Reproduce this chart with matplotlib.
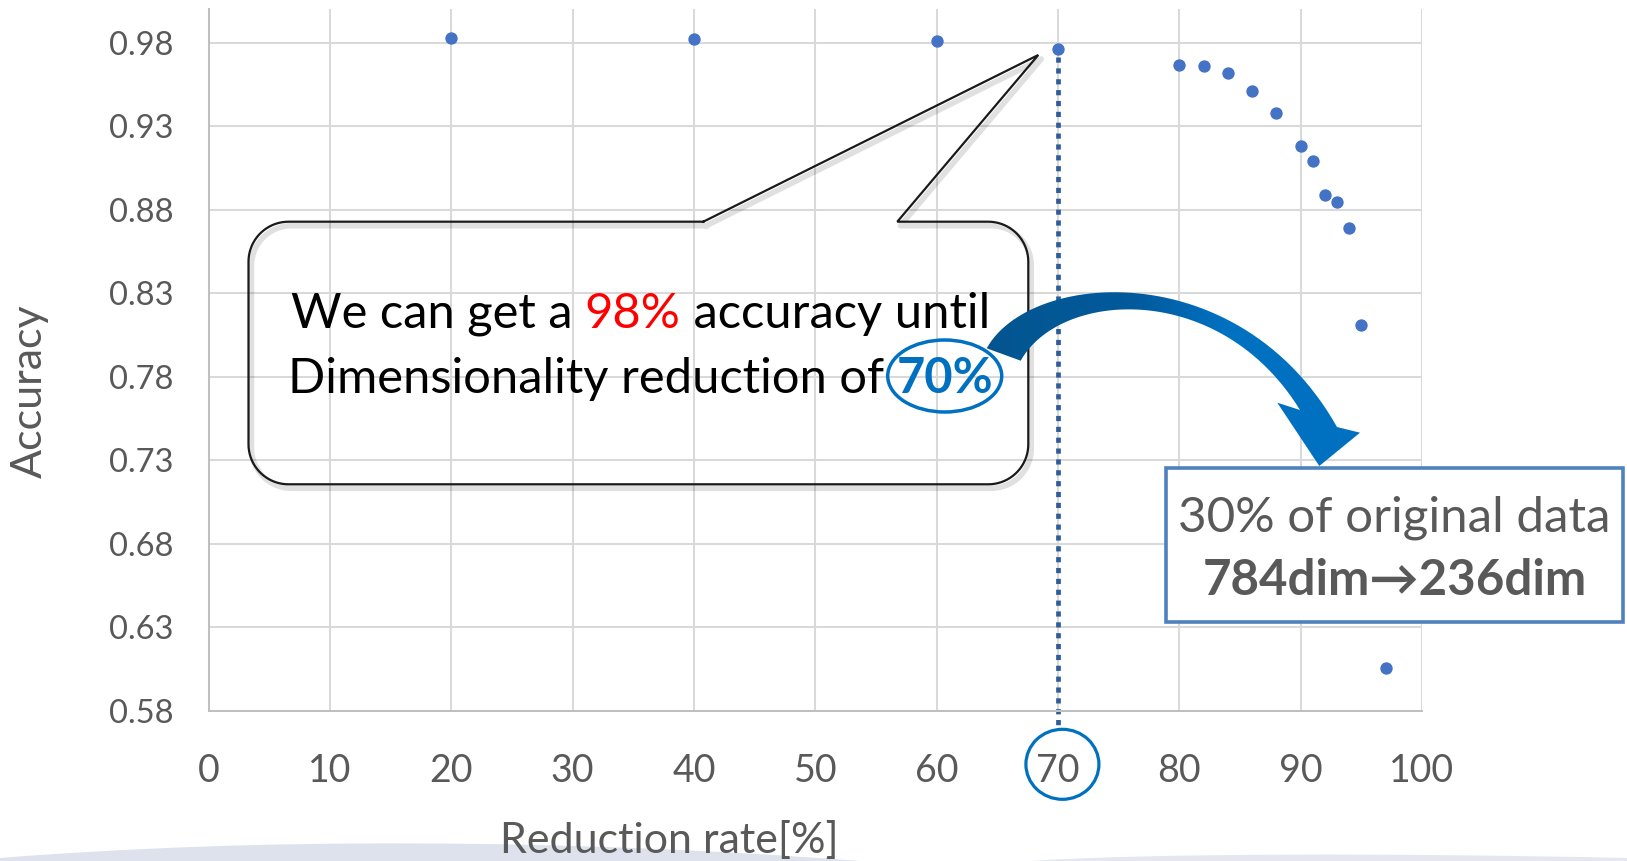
import numpy as np
import matplotlib.pyplot as plt
from matplotlib.patches import Ellipse, Rectangle, Polygon, PathPatch
from matplotlib.path import Path
from matplotlib.colors import LinearSegmentedColormap

# accuracy vs. dimensionality reduction rate
reduction = [20, 40, 60, 70, 80, 82, 84, 86, 88, 90, 91, 92, 93, 94, 95, 97]
accuracy = [0.983, 0.982, 0.981, 0.976, 0.967, 0.966, 0.962, 0.951, 0.938,
            0.918, 0.909, 0.889, 0.885, 0.869, 0.811, 0.606]
x_ticks = [0, 10, 20, 30, 40, 50, 60, 70, 80, 90, 100]
y_ticks = [0.58, 0.63, 0.68, 0.73, 0.78, 0.83, 0.88, 0.93, 0.98]
threshold = 70

W, H = 1627, 861
GRAY = '#595959'
BLUE = '#0070C0'

plt.rcParams['font.family'] = ['Lato', 'DejaVu Sans']

fig = plt.figure(figsize=(W / 100, H / 100), dpi=100)
fig.patch.set_facecolor('white')


def pixel_axes(z):
    a = fig.add_axes([0, 0, 1, 1], zorder=z)
    a.set_xlim(0, W)
    a.set_ylim(H, 0)
    a.axis('off')
    return a


bg = pixel_axes(0)
ax = fig.add_axes([208.6 / W, 1 - 711 / H, 1213.3 / W, 701.6 / H], zorder=1)
ov = pixel_axes(2)

# slide decoration along the bottom edge
left_band = Path([(0, 861), (0, 858), (250, 838), (560, 838), (860, 861), (0, 861)],
                 [Path.MOVETO, Path.LINETO, Path.CURVE4, Path.CURVE4, Path.CURVE4, Path.CLOSEPOLY])
right_band = Path([(1030, 861), (1150, 853), (1400, 853), (1627, 858), (1627, 861), (1030, 861)],
                  [Path.MOVETO, Path.CURVE4, Path.CURVE4, Path.CURVE4, Path.LINETO, Path.CLOSEPOLY])
bg.add_patch(PathPatch(left_band, fc='#dde2ed', ec='none'))
bg.add_patch(PathPatch(right_band, fc='#e4e7f0', ec='none'))

# scatter
ax.plot(reduction, accuracy, 'o', color='#4472C4', ms=7.9, zorder=3)
ax.set_xlim(0, 100)
ax.set_ylim(0.58, 1.0)
ax.set_xticks(x_ticks)
ax.set_yticks(y_ticks)
ax.set_yticklabels([f'{v:.2f}' for v in y_ticks])
ax.grid(True, color='#d9d9d9', lw=1.45)
ax.set_axisbelow(True)
for side in ['top', 'right']:
    ax.spines[side].set_visible(False)
for side in ['left', 'bottom']:
    ax.spines[side].set_color('#bfbfbf')
    ax.spines[side].set_linewidth(1.45)
ax.tick_params(axis='x', length=0, pad=30, labelsize=27, labelcolor=GRAY)
ax.tick_params(axis='y', length=0, pad=25, labelsize=23.5, labelcolor=GRAY)
ax.set_xlabel('Reduction rate[%]', fontsize=31, color=GRAY)
ax.xaxis.set_label_coords(0.3795, -0.157)
ax.set_ylabel('Accuracy', fontsize=31, color=GRAY, va='center')
ax.yaxis.set_label_coords(-0.1472, 0.456)

# threshold marker
acc_at_threshold = accuracy[reduction.index(threshold)]
ax.plot([threshold, threshold], [acc_at_threshold - 0.0045, 0.5716], color='#2E5D9A',
        lw=3.4, ls=(0, (1.1, 1.2)), dash_capstyle='butt', clip_on=False, zorder=2)

rend = fig.canvas.get_renderer()


def advance(s, size, weight):
    t = ov.text(0, 0, s + '|', fontsize=size, fontweight=weight)
    w1 = t.get_window_extent(rend).width
    t.remove()
    t = ov.text(0, 0, '|', fontsize=size, fontweight=weight)
    w2 = t.get_window_extent(rend).width
    t.remove()
    return w1 - w2


def rich_line(cx, y, pieces, size):
    widths = [advance(s, size, wt) for s, c, wt in pieces]
    x = cx - sum(widths) / 2
    spans = []
    for (s, c, wt), w in zip(pieces, widths):
        ov.text(x, y, s, color=c, fontsize=size, fontweight=wt, ha='left', va='baseline', zorder=5)
        spans.append((x, w))
        x += w
    return spans


# callout bubble (outline only)
L, R, T, B, r = 248.5, 1028.3, 221.7, 484.3, 40


def corner(cx, cy, a0, a1):
    t = np.radians(np.linspace(a0, a1, 20))
    return list(zip(cx + r * np.cos(t), cy + r * np.sin(t)))


bubble = ([(703.3, T), (1038.3, 55), (897.3, T), (R - r, T)]
          + corner(R - r, T + r, -90, 0) + corner(R - r, B - r, 0, 90)
          + corner(L + r, B - r, 90, 180) + corner(L + r, T + r, 180, 270)
          + [(703.3, T)])
bx, by = zip(*bubble)
ov.plot(np.array(bx) + 3, np.array(by) + 4, color='black', alpha=0.12, lw=4, zorder=3)
ov.plot(bx, by, color='#1a1a1a', lw=1.6, solid_joinstyle='miter', zorder=4)

cx = (L + R) / 2 + 2
rich_line(cx, 328, [('We can get a ', 'black', 'normal'), ('98%', '#FF0000', 'normal'),
                    (' accuracy until', 'black', 'normal')], 35.2)
spans = rich_line(cx, 392.7, [('Dimensionality reduction of ', 'black', 'normal'),
                              ('70%', BLUE, 'bold')], 35.2)
px, pw = spans[-1]
ov.add_patch(Ellipse((px + pw / 2, 376), 114, 72, fc='none', ec=BLUE, lw=2.5, zorder=6))


# curved arrow
def bezier(p, n=60):
    p = np.array(p, dtype=float)
    t = np.linspace(0, 1, n)[:, None]
    return ((1 - t) ** 3 * p[0] + 3 * (1 - t) ** 2 * t * p[1]
            + 3 * (1 - t) * t ** 2 * p[2] + t ** 3 * p[3])


outer = bezier([(986.7, 348.3), (1030, 270), (1240, 255), (1337, 427)])
inner = bezier([(1020.7, 360.7), (1060, 290), (1220, 280), (1300, 410)])
head = np.array([(1360, 432.7), (1319.3, 466), (1277.3, 402.7)])
arrow = Polygon(np.vstack([outer, head, inner[::-1]]), closed=True, fc='none', ec='none')
ov.add_patch(arrow)
cmap = LinearSegmentedColormap.from_list('arrow', [(0, '#02558F'), (0.4, '#025A9C'),
                                                   (0.62, BLUE), (1, BLUE)])
im = ov.imshow(np.linspace(0, 1, 256)[None, :], extent=(980, 1370, 470, 280),
               cmap=cmap, aspect='auto', zorder=6)
im.set_clip_path(arrow)
ov.set_xlim(0, W)
ov.set_ylim(H, 0)

# result box
ov.add_patch(Rectangle((1166, 468.3), 457.3, 153.4, fc='white', ec='#4F81BD', lw=2.6, zorder=5))
ov.text(1394.7, 531.7, '30% of original data', fontsize=35.5, color=GRAY,
        ha='center', va='baseline', zorder=6)
ov.text(1394.7, 595, '784dim→236dim', fontsize=35.5, color=GRAY, fontweight='bold',
        ha='center', va='baseline', zorder=6)

# ring around the threshold tick label
tx, ty = ax.transData.transform((threshold, 0.58))
ov.add_patch(Ellipse((tx + 4.5, H - ty + 53.3), 73, 70, fc='none', ec=BLUE, lw=2.3, zorder=6))

fig.savefig('out.png', dpi=100, facecolor='white')
